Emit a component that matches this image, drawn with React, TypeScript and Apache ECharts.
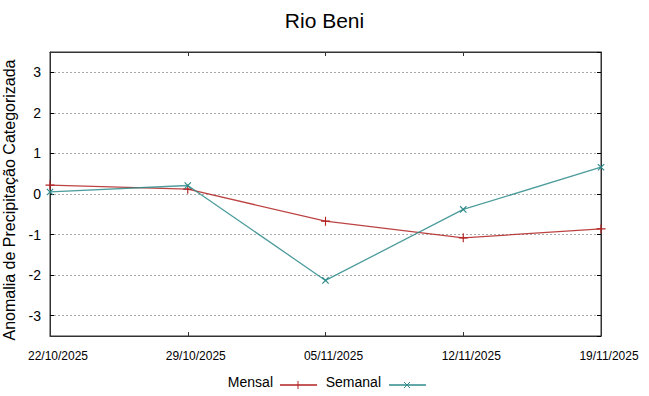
import React, { useEffect, useRef } from "react";
import * as echarts from "echarts";

const dates = ["22/10/2025", "29/10/2025", "05/11/2025", "12/11/2025", "19/11/2025"];
const mensal = [0.22, 0.12, -0.67, -1.08, -0.86];
const semanal = [0.05, 0.21, -2.13, -0.38, 0.66];
const seriesNames = ["Mensal", "Semanal"];
const titleText = "Rio Beni";
const yAxisName = "Anomalia de Precipitação Categorizada";

const RED = "#b22222";
const TEAL = "#2e8b8b";
const FONT = "Liberation Sans, Arial, sans-serif";
const PLUS = "path://M0,3.5h8v1h-8zM3.5,0h1v8h-1z";

export default function App() {
  const ref = useRef<HTMLDivElement>(null);
  useEffect(() => {
    document.body.style.margin = "0";
    const chart = echarts.init(ref.current!, null, { renderer: "svg" });
    const axisLine = { show: true, onZero: false, lineStyle: { color: "#333", width: 1 } };
    chart.setOption({
      animation: false,
      title: {
        text: titleText,
        left: "center",
        top: 5,
        textStyle: { fontFamily: FONT, fontSize: 21, fontWeight: "normal", color: "#000" },
      },
      grid: {
        left: 50,
        right: 48,
        top: 52,
        bottom: 60,
        show: true,
        borderColor: "#333",
        borderWidth: 1,
        containLabel: false,
        outerBoundsMode: "none",
      },
      xAxis: [
        {
          type: "category",
          data: dates,
          boundaryGap: false,
          axisLine,
          axisTick: { show: true, inside: true, length: 4, lineStyle: { color: "#333" } },
          axisLabel: {
            fontFamily: FONT,
            fontSize: 12,
            color: "#000",
            margin: 14,
            padding: [0, 0, 0, 16],
            showMinLabel: true,
            showMaxLabel: true,
            interval: 0,
          },
          splitLine: { show: false },
        },
        {
          type: "category",
          data: dates,
          boundaryGap: false,
          position: "top",
          axisLine,
          axisTick: { show: true, inside: true, length: 4, lineStyle: { color: "#333" } },
          axisLabel: { show: false },
          splitLine: { show: false },
        },
      ],
      yAxis: [
        {
          type: "value",
          min: -3.5,
          max: 3.5,
          splitNumber: 7,
          name: yAxisName,
          nameLocation: "middle",
          nameGap: 16,
          nameRotate: 90,
          nameTextStyle: { fontFamily: FONT, fontSize: 16, color: "#000", padding: [0, 12, 0, 0] },
          axisLine,
          axisTick: { show: true, inside: true, length: 4, lineStyle: { color: "#000" } },
          axisLabel: { fontFamily: FONT, fontSize: 14, color: "#000", margin: 9, showMinLabel: false, showMaxLabel: false },
          splitLine: { show: true, lineStyle: { color: "#aaa", type: [2, 2], width: 1 } },
        },
        {
          type: "value",
          min: -3.5,
          max: 3.5,
          splitNumber: 7,
          position: "right",
          axisLine,
          axisTick: { show: true, inside: true, length: 4, lineStyle: { color: "#000" } },
          axisLabel: { show: false },
          splitLine: { show: false },
        },
      ],
      series: [
        {
          name: seriesNames[0],
          type: "line",
          data: mensal,
          symbol: PLUS,
          symbolSize: 9,
          itemStyle: { color: RED },
          lineStyle: { color: RED, width: 1.3, opacity: 0.85 },
          z: 3,
        },
        {
          name: seriesNames[1],
          type: "line",
          data: semanal,
          symbol: PLUS,
          symbolSize: 9,
          symbolRotate: 45,
          itemStyle: { color: TEAL },
          lineStyle: { color: TEAL, width: 1.3, opacity: 0.85 },
          z: 4,
        },
      ],
      graphic: [
        {
          type: "text",
          x: 273,
          y: 382,
          style: { text: seriesNames[0], fontFamily: FONT, fontSize: 14, fill: "#000", align: "right", verticalAlign: "middle" },
        },
        { type: "line", shape: { x1: 280, y1: 385, x2: 317, y2: 385 }, style: { stroke: RED, lineWidth: 1.3 } },
        { type: "line", shape: { x1: 298, y1: 381, x2: 298, y2: 389 }, style: { stroke: RED, lineWidth: 1 } },
        {
          type: "text",
          x: 381,
          y: 382,
          style: { text: seriesNames[1], fontFamily: FONT, fontSize: 14, fill: "#000", align: "right", verticalAlign: "middle" },
        },
        { type: "line", shape: { x1: 389, y1: 385, x2: 426, y2: 385 }, style: { stroke: TEAL, lineWidth: 1.3 } },
        { type: "line", shape: { x1: 404, y1: 382, x2: 410, y2: 388 }, style: { stroke: TEAL, lineWidth: 1 } },
        { type: "line", shape: { x1: 404, y1: 388, x2: 410, y2: 382 }, style: { stroke: TEAL, lineWidth: 1 } },
      ],
    });
    return () => chart.dispose();
  }, []);
  return <div ref={ref} style={{ width: 649, height: 396 }} />;
}
